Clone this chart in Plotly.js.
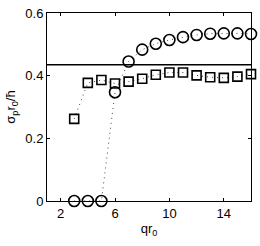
<!DOCTYPE html>
<html><head><meta charset="utf-8">
<script src="https://cdn.plot.ly/plotly-3.0.1.min.js"></script>
<style>html,body{margin:0;padding:0;background:#fff}#c{width:260px;height:246px}</style>
</head><body><div id="c"></div>
<script>
const qr = [3,4,5,6,7,8,9,10,11,12,13,14,15,16];
const circleVals = [0,0,0,0.347,0.445,0.483,0.502,0.514,0.523,0.530,0.534,0.535,0.535,0.533];
const squareVals = [0.262,0.377,0.386,0.375,0.381,0.390,0.403,0.410,0.410,0.401,0.395,0.393,0.397,0.405];
const hLineValue = 0.435;
const xTicks = [2,6,10,14];
const yTicks = [0,0.2,0.4,0.6];
const yTickText = ['0','0.2','0.4','0.6'];

const traces = [
  {x: qr, y: squareVals, mode: 'lines+markers', type: 'scatter', cliponaxis: false,
   line: {color: '#444', width: 1, dash: '1px,4px'},
   marker: {symbol: 'square-open', size: 9, color: '#000', line: {width: 1.6, color: '#000'}}},
  {x: qr, y: circleVals, mode: 'lines+markers', type: 'scatter', cliponaxis: false,
   line: {color: '#444', width: 1, dash: '1px,4px'},
   marker: {symbol: 'circle-open', size: 11, color: '#000', line: {width: 1.6, color: '#000'}}}
];
const layout = {
  width: 260, height: 246,
  margin: {l: 47, r: 9, t: 13, b: 45},
  showlegend: false,
  paper_bgcolor: '#fff', plot_bgcolor: '#fff',
  font: {family: 'Liberation Sans, Arial, sans-serif', size: 12, color: '#000'},
  xaxis: {range: [1, 16], tickvals: xTicks, ticks: 'inside', ticklen: 3, tickcolor: '#000',
    showline: true, linecolor: '#000', linewidth: 1, mirror: 'ticks', showgrid: false, zeroline: false,
    tickfont: {size: 13},
    title: {text: 'qr<sub>0</sub>', standoff: 4, font: {size: 13}}},
  yaxis: {range: [0, 0.6], tickvals: yTicks, ticktext: yTickText, ticks: 'inside', ticklen: 3, tickcolor: '#000',
    showline: true, linecolor: '#000', linewidth: 1, mirror: 'ticks', showgrid: false, zeroline: false,
    tickfont: {size: 13},
    title: {text: 'σ<sub>p</sub>r<sub>0</sub>/ħ', standoff: 6, font: {size: 13}}},
  shapes: [{type: 'line', xref: 'paper', x0: 0, x1: 1, yref: 'y', y0: hLineValue, y1: hLineValue,
    line: {color: '#000', width: 1.5}}]
};
Plotly.newPlot('c', traces, layout, {staticPlot: true, displayModeBar: false});
</script></body></html>
